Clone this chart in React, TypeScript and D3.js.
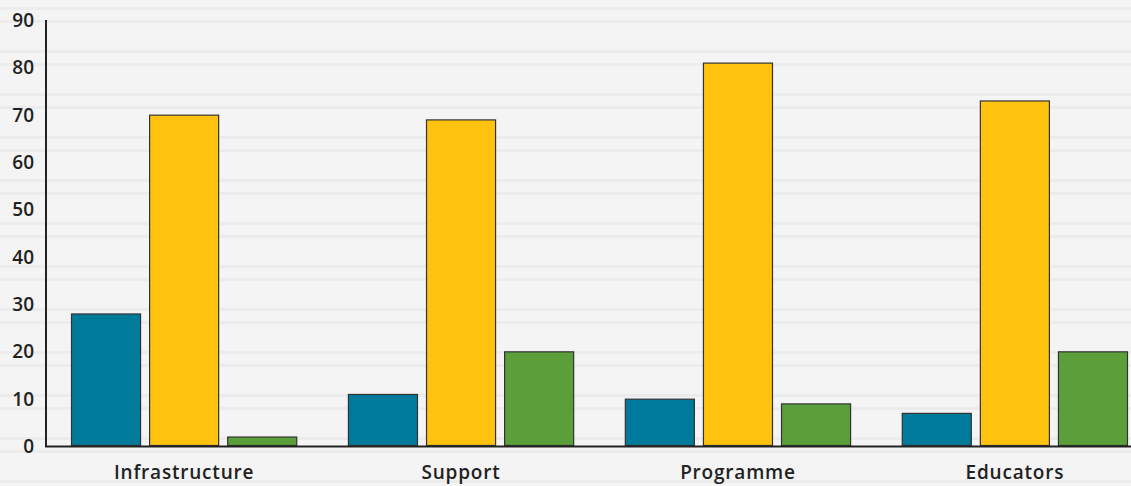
import React from "react";
import * as d3 from "d3";

const categories = ["Infrastructure", "Support", "Programme", "Educators"];
const seriesNames = ["A", "B", "C"];
const seriesA = [28, 11, 10, 7];
const seriesB = [70, 69, 81, 73];
const seriesC = [2, 20, 9, 20];
const yTicks = [0, 10, 20, 30, 40, 50, 60, 70, 80, 90];
const colors = ["#007a9b", "#ffc30f", "#5b9f3a"];

const W = 1131;
const H = 486;

export default function App() {
  const series = [seriesA, seriesB, seriesC];
  const x0 = d3.scaleBand<string>().domain(categories).range([71, 1128]).paddingInner(0.183).paddingOuter(0);
  const x1 = d3.scaleBand<string>().domain(seriesNames).range([0, x0.bandwidth()]).paddingInner(0.103).paddingOuter(0);
  const y = d3.scaleLinear().domain([0, 90]).range([446, 20]);
  const stripes = d3.range(7, H, 43);
  const font = "'Open Sans', sans-serif";
  return (
    <div style={{ position: "fixed", left: 0, top: 0 }}>
      <svg width={W} height={H} style={{ display: "block" }}>
        <rect x={0} y={0} width={W} height={H} fill="#f4f4f4" />
        {stripes.map((s) => (
          <g key={s}>
            <rect x={0} y={s} width={W} height={3} fill="#ececec" />
            <rect x={0} y={s + 13} width={W} height={3} fill="#ececec" />
          </g>
        ))}
        {categories.map((c, i) => (
          <g key={c} transform={`translate(${x0(c)},0)`}>
            {seriesNames.map((sn, j) => {
              const v = series[j][i];
              return (
                <rect
                  key={sn}
                  x={x1(sn)! + 0.5}
                  y={y(v) + 0.5}
                  width={x1.bandwidth() - 1}
                  height={Math.max(0, y(0) - y(v) - 1)}
                  fill={colors[j]}
                  stroke="#333"
                  strokeWidth={1.2}
                />
              );
            })}
            <text
              x={x0.bandwidth() / 2}
              y={479}
              textAnchor="middle"
              fontFamily={font}
              fontWeight={600}
              fontSize={19}
              letterSpacing={0.8}
              fill="#222"
            >
              {c}
            </text>
          </g>
        ))}
        {yTicks.map((t) => (
          <text
            key={t}
            x={34}
            y={y(t)}
            dy="0.36em"
            textAnchor="end"
            fontFamily={font}
            fontWeight={600}
            fontSize={19}
            fill="#222"
          >
            {t}
          </text>
        ))}
        <line x1={46} x2={46} y1={20} y2={447} stroke="#222" strokeWidth={2} />
        <line x1={45} x2={W} y1={446.5} y2={446.5} stroke="#222" strokeWidth={2} />
      </svg>
    </div>
  );
}
